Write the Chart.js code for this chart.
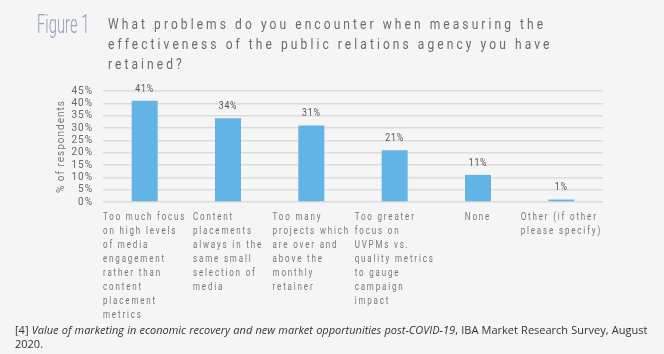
<!DOCTYPE html>
<html>
<head>
<meta charset="utf-8">
<script src="https://cdn.jsdelivr.net/npm/chart.js@4.4.1/dist/chart.umd.min.js"></script>
<style>
  html, body { margin: 0; padding: 0; background: #f5f5f5; }
  body { width: 664px; height: 354px; position: relative; overflow: hidden; }
  #wrap { position: absolute; left: 0; top: 0; width: 664px; height: 354px; }
  #fig {
    position: absolute; left: 37px; top: 11px;
    font-family: Roboto, sans-serif; font-weight: 300;
    font-size: 26px; line-height: 26px; color: #8fa1ba;
    transform: scaleX(0.57); transform-origin: left top; white-space: nowrap;
  }
  #question {
    position: absolute; left: 108px; top: 14px;
    font-family: Roboto, sans-serif;
    font-size: 15px; line-height: 20px; letter-spacing: 3.85px; color: #6b6b6b; white-space: nowrap;
    transform: scaleX(0.8); transform-origin: left top;
  }
  #note {
    position: absolute; left: 15px; top: 323px;
    font-family: 'Open Sans', sans-serif; font-size: 11px; line-height: 14px; color: #333;
    word-spacing: 0.33px; white-space: nowrap;
  }
</style>
</head>
<body>
<div id="wrap"><canvas id="barChart"></canvas></div>
<div id="fig">Figure 1</div>
<div id="question">What problems do you encounter when measuring the<br>effectiveness of the public relations agency you have<br>retained?</div>
<div id="note">[4] <i>Value of marketing in economic recovery and new market opportunities post-COVID-19</i>, IBA Market Research Survey, August<br>2020.</div>
<script>
const categories = [
  ['Too much focus', 'on high levels', 'of media', 'engagement', 'rather than', 'content', 'placement', 'metrics'],
  ['Content', 'placements', 'always in the', 'same small', 'selection of', 'media'],
  ['Too many', 'projects which', 'are over and', 'above the', 'monthly', 'retainer'],
  ['Too greater', 'focus on', 'UVPMs vs.', 'quality metrics', 'to gauge', 'campaign', 'impact'],
  ['None'],
  ['Other (if other', 'please specify)']
];
const shares = [41, 34, 31, 21, 11, 1];
const yTicks = [0, 5, 10, 15, 20, 25, 30, 35, 40, 45];

const FONT = 'Roboto, sans-serif';
const SQUEEZE = 0.8;

// condensed text: squeeze horizontally around the anchor point
function squeezed(ctx, text, x, y, align) {
  const w = ctx.measureText(text).width * SQUEEZE;
  let x0 = x;
  if (align === 'center') x0 = x - w / 2;
  ctx.save();
  ctx.translate(x0, y);
  ctx.scale(SQUEEZE, 1);
  ctx.textAlign = 'left';
  ctx.fillText(text, 0, 0);
  ctx.restore();
}

const textPlugin = {
  id: 'textPlugin',
  beforeUpdate(chart) { chart.ctx.letterSpacing = '1px'; },
  beforeDraw(chart) { chart.ctx.letterSpacing = '1px'; },
  afterDatasetsDraw(chart) {
    const ctx = chart.ctx;
    const xs = chart.scales.x;
    const meta = chart.getDatasetMeta(0);
    ctx.save();
    ctx.textBaseline = 'middle';
    // value labels above bars
    ctx.font = '11px ' + FONT;
    ctx.letterSpacing = '1px';
    ctx.fillStyle = '#555';
    meta.data.forEach((bar, i) => {
      squeezed(ctx, shares[i] + '%', bar.x, bar.y - 12, 'center');
    });
    // category labels, block centred under the bar, lines left aligned
    ctx.font = '10px ' + FONT;
    ctx.letterSpacing = '2.3px';
    ctx.fillStyle = '#777';
    const top = chart.chartArea.bottom + 15;
    chart.data.labels.forEach((lines, i) => {
      const w = Math.max(...lines.map(l => ctx.measureText(l).width)) * SQUEEZE;
      const x0 = xs.getPixelForValue(i) - w / 2;
      lines.forEach((l, j) => squeezed(ctx, l, x0, top + j * 14, 'left'));
    });
    ctx.restore();
  }
};

new Chart(document.getElementById('barChart'), {
  type: 'bar',
  data: {
    labels: categories,
    datasets: [{
      label: '% of respondents',
      data: shares,
      backgroundColor: '#62b4e6',
      barPercentage: 0.312,
      categoryPercentage: 1
    }]
  },
  options: {
    responsive: true,
    maintainAspectRatio: false,
    animation: false,
    layout: { padding: { left: 50, right: 61, top: 91, bottom: 152 } },
    plugins: {
      legend: { display: false },
      tooltip: { enabled: false }
    },
    scales: {
      x: {
        grid: { display: false, drawTicks: false },
        border: { display: false },
        ticks: { display: false }
      },
      y: {
        min: 0,
        max: 45,
        afterBuildTicks: s => { s.ticks = yTicks.map(v => ({ value: v })); },
        afterFit: s => { s.width = 53; },
        ticks: {
          autoSkip: false,
          padding: 10,
          color: '#666',
          font: { family: FONT, size: 10 },
          callback: v => v + '%'
        },
        grid: { color: '#dcdcdc', lineWidth: 1.5, drawTicks: false },
        border: { display: false },
        title: {
          display: true,
          text: '% of respondents',
          color: '#777',
          font: { family: FONT, size: 10 },
          padding: { top: 5, bottom: 0 }
        }
      }
    }
  },
  plugins: [textPlugin]
});
</script>
</body>
</html>
